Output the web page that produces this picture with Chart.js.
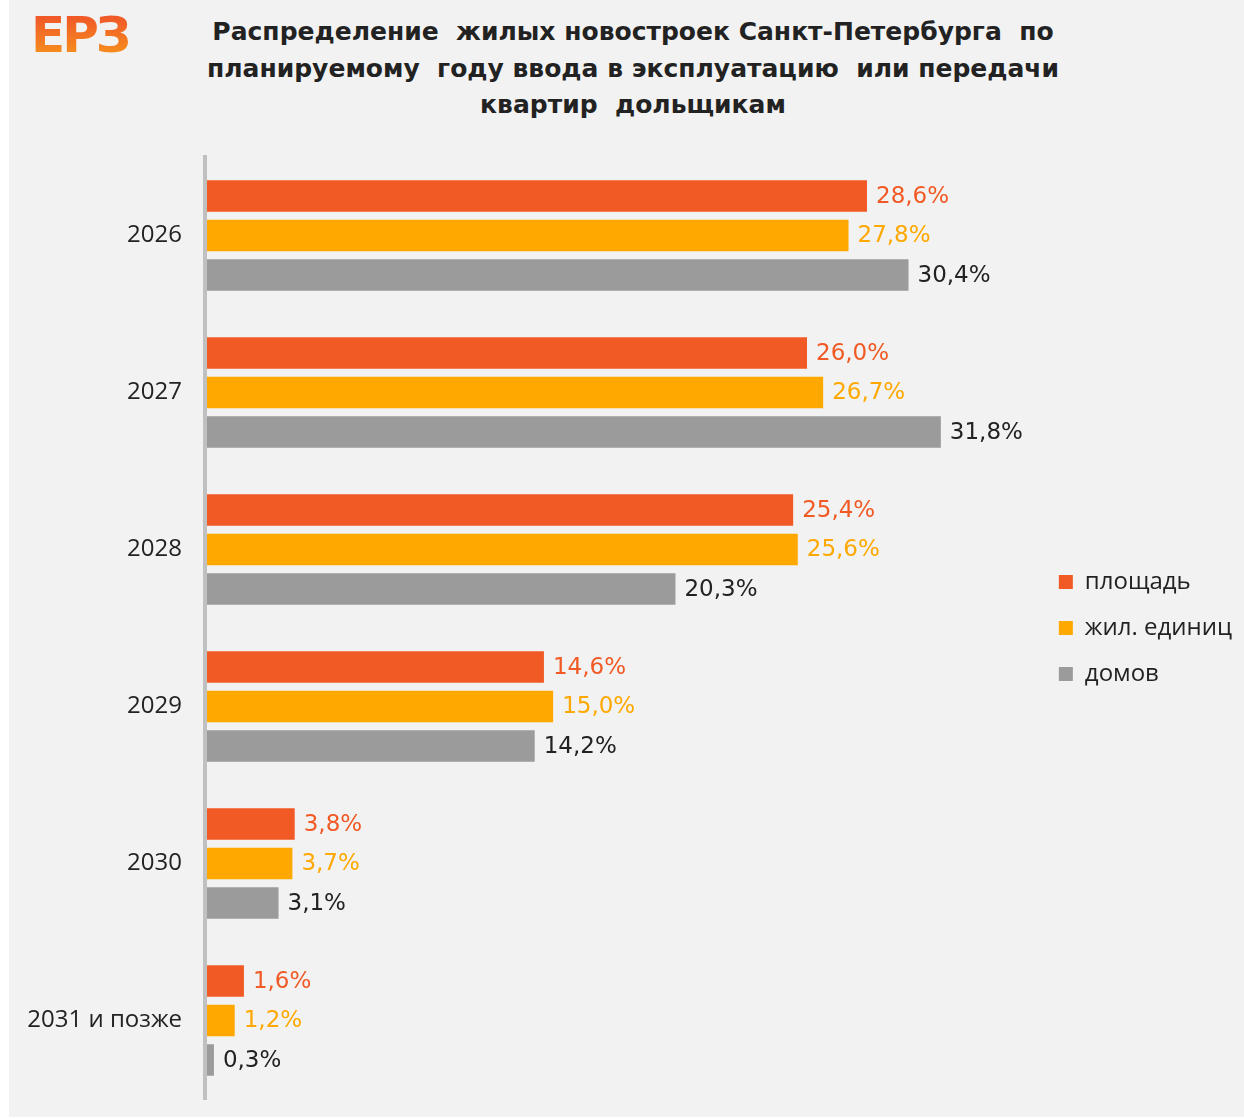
<!DOCTYPE html>
<html lang="ru">
<head>
<meta charset="utf-8">
<title>Распределение жилых новостроек Санкт-Петербурга</title>
<script src="https://cdn.jsdelivr.net/npm/chart.js@4/dist/chart.umd.min.js"></script>
<style>
  html, body { margin: 0; padding: 0; background: #ffffff; }
  body { width: 1244px; height: 1118px; position: relative; overflow: hidden; font-family: "Open Sans", sans-serif; }
  .panel { position: absolute; left: 9px; top: 0; width: 1235px; height: 1117px; background: #f2f2f2; }
  .logo {
    position: absolute; left: 31px; top: 6px; font-family: "DejaVu Sans", sans-serif; font-size: 50px; font-weight: 700;
    letter-spacing: -3px; line-height: 58px;
    background: linear-gradient(#f05a28 20%, #f7941d 90%); -webkit-background-clip: text; background-clip: text; color: transparent;
  }
  .title {
    position: absolute; left: 133px; width: 1000px; top: 14px; text-align: center; white-space: pre;
    font-family: "DejaVu Sans", sans-serif; font-size: 25px; font-weight: 700; line-height: 36.5px; color: #222222;
  }
  .chart-box { position: absolute; left: 0; top: 140px; width: 1242px; height: 978px; }
</style>
</head>
<body>
<div class="panel"></div>
<div class="logo">ЕРЗ</div>
<div class="title">Распределение  жилых новостроек Санкт-Петербурга  по
планируемому  году ввода в эксплуатацию  или передачи
квартир  дольщикам</div>
<div class="chart-box"><canvas id="chart"></canvas></div>

<script>
/* ======================================================================
Data
====================================================================== */
const years = ['2026', '2027', '2028', '2029', '2030', '2031 и позже'];
const seriesNames = ['площадь', 'жил. единиц', 'домов'];
const area = [28.6, 26.0, 25.4, 14.6, 3.8, 1.6];
const units = [27.8, 26.7, 25.6, 15.0, 3.7, 1.2];
const houses = [30.4, 31.8, 20.3, 14.2, 3.1, 0.3];

/* ======================================================================
Styles
====================================================================== */
const barColors = ['#f15a24', '#ffa800', '#9b9b9b'];
const labelColors = ['#f15a24', '#ffa800', '#222222'];
const X_MIN = -0.087;
const X_MAX = 35.96;

/* ======================================================================
Value labels at bar ends
====================================================================== */
const valueLabels = {
  id: 'valueLabels',
  afterDatasetsDraw(chart) {
    const ctx = chart.ctx;
    ctx.save();
    ctx.font = '23px "DejaVu Sans"';
    ctx.textAlign = 'left';
    ctx.textBaseline = 'middle';
    chart.data.datasets.forEach((ds, i) => {
      chart.getDatasetMeta(i).data.forEach((bar, j) => {
        ctx.fillStyle = labelColors[i];
        ctx.fillText(ds.data[j].toFixed(1).replace('.', ',') + '%', bar.x + 9, bar.y + 1);
      });
    });
    ctx.restore();
  }
};

/* ======================================================================
Chart
====================================================================== */
const ctx = document.getElementById('chart');
new Chart(ctx, {
  type: 'bar',
  data: {
    labels: years,
    datasets: [area, units, houses].map((d, i) => ({
      label: seriesNames[i],
      data: d,
      backgroundColor: barColors[i],
      borderWidth: 0,
      barPercentage: 0.8,
      categoryPercentage: 0.755
    }))
  },
  options: {
    indexAxis: 'y',
    responsive: true,
    maintainAspectRatio: false,
    animation: false,
    layout: { padding: { top: 17, bottom: 19, left: 0, right: 0 } },
    scales: {
      x: { display: false, min: X_MIN, max: X_MAX },
      y: {
        grid: { display: false, drawTicks: false },
        border: { display: true, color: '#c0c0c0', width: 4 },
        ticks: { color: '#222222', font: { family: 'Open Sans', size: 24 }, padding: 23 },
        afterFit: (s) => { s.width = 205; s.paddingTop = 0; s.paddingBottom = 0; }
      }
    },
    plugins: {
      legend: {
        position: 'right',
        align: 'center',
        labels: {
          boxWidth: 14, boxHeight: 14, padding: 22, color: '#222222',
          font: { family: 'Open Sans', size: 24 }
        }
      },
      tooltip: { enabled: false }
    }
  },
  plugins: [valueLabels]
});
</script>
</body>
</html>
